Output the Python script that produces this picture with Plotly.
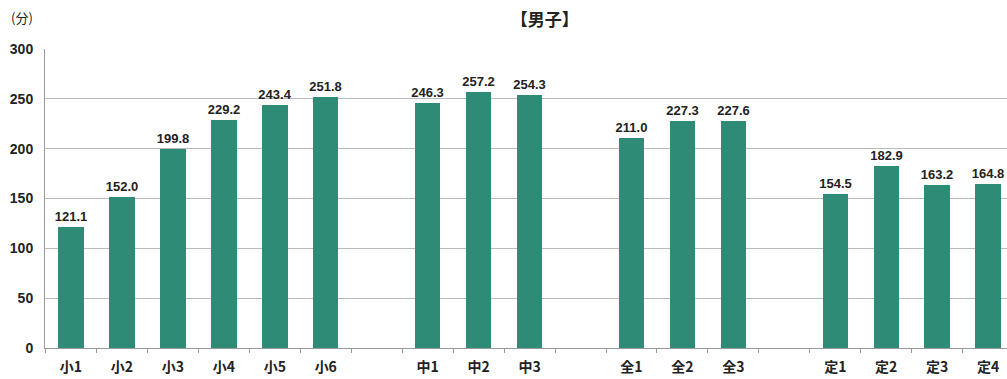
import plotly.graph_objects as go

categories = ["小1", "小2", "小3", "小4", "小5", "小6",
              "中1", "中2", "中3",
              "全1", "全2", "全3",
              "定1", "定2", "定3", "定4"]
values = [121.1, 152.0, 199.8, 229.2, 243.4, 251.8,
          246.3, 257.2, 254.3,
          211.0, 227.3, 227.6,
          154.5, 182.9, 163.2, 164.8]
# slot positions (one empty slot between school groups)
positions = [0, 1, 2, 3, 4, 5,
             7, 8, 9,
             11, 12, 13,
             15, 16, 17, 18]
y_ticks = [0, 50, 100, 150, 200, 250, 300]

FONT = "Liberation Sans, Arial, Noto Sans CJK JP, sans-serif"
BAR = "#2e8b76"

fig = go.Figure(go.Bar(
    x=positions, y=values, width=0.5,
    marker=dict(color=BAR, line=dict(width=0)),
    text=[f"{v:.1f}" for v in values], textposition="outside",
    textfont=dict(family=FONT, size=13, color="#222", weight="bold"),
    constraintext="none",
    cliponaxis=False,
))

fig.update_layout(
    width=1007, height=379,
    margin=dict(l=45, r=0, t=49, b=31),
    paper_bgcolor="white", plot_bgcolor="white",
    showlegend=False,
    font=dict(family=FONT, color="#222"),
    title=dict(text="<b>【男子】</b>", x=0.541, xanchor="center",
               y=1 - 20 / 379, yanchor="middle",
               font=dict(family="Noto Sans CJK JP", size=17, color="#222")),
    xaxis=dict(range=[-0.51, 18.37], tickvals=positions, ticktext=categories,
               showgrid=False, zeroline=False, showline=True,
               linecolor="#999", linewidth=1, ticks="",
               ticklabelstandoff=6,
               tickfont=dict(family="Noto Sans CJK JP", size=14, color="#222",
                             weight="bold"),
               minor=dict(ticks="outside", tick0=-0.5, dtick=1, ticklen=4,
                          tickcolor="#999", showgrid=False)),
    yaxis=dict(range=[0, 300], tickvals=y_ticks, showgrid=True,
               gridcolor="#bbbbbb", gridwidth=1, zeroline=False,
               showline=True, linecolor="#999", linewidth=1, ticks="",
               ticklabelstandoff=8,
               tickfont=dict(family=FONT, size=14, color="#222", weight="bold")),
    bargap=0,
)
fig.add_annotation(text="(分)", x=-0.024, y=1 + (49 - 17) / 299,
                   xref="paper", yref="paper", showarrow=False,
                   xanchor="center", yanchor="middle",
                   font=dict(family="Noto Sans CJK JP", size=13, color="#222"))

fig.write_html("out.html", config={"displayModeBar": False},
               post_script="document.body.style.margin='0';document.body.style.overflow='hidden';")
